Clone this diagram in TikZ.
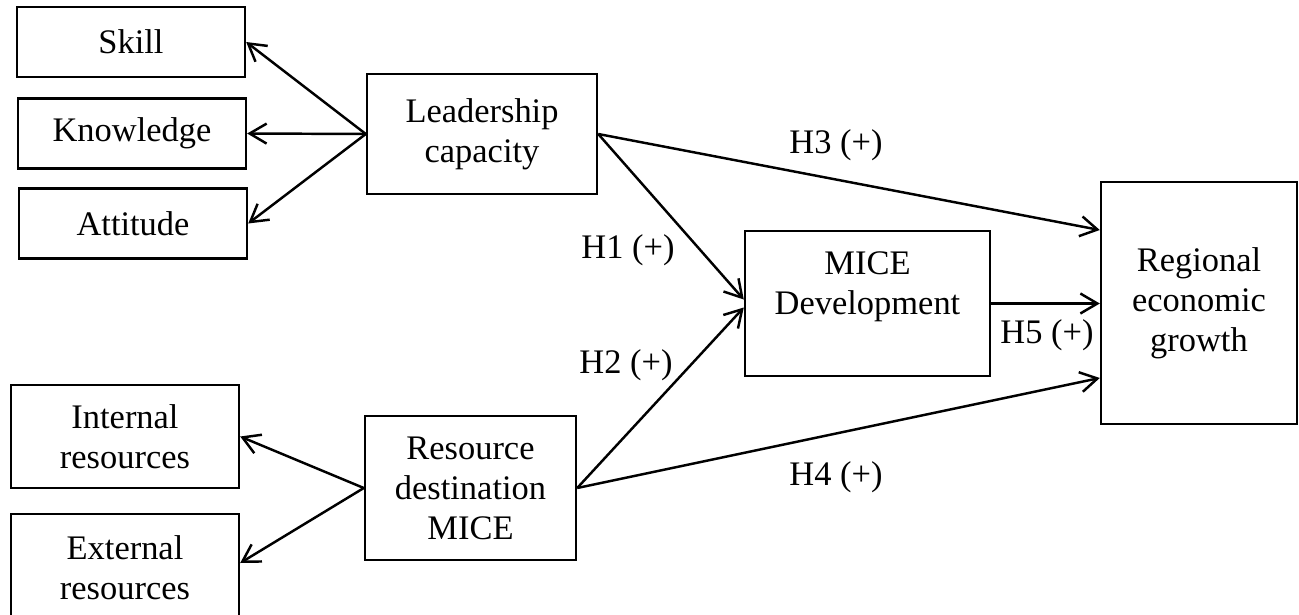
\documentclass[tikz,border=0pt]{standalone}
\usepackage{fontspec}
\setmainfont{Liberation Serif}
\usetikzlibrary{arrows.meta, positioning}

\begin{document}
\begin{tikzpicture}[
    x=0.02cm, y=-0.02cm,
    box/.style={
      draw,
      line width=1.4pt,
      align=center,
      inner sep=2pt,
      font=\fontsize{19.6}{22.8}\selectfont
    },
    lbl/.style={font=\fontsize{19.6}{22.8}\selectfont, inner sep=1pt},
    arrow/.style={-{Straight Barb[length=3.4mm, width=4mm, line width=1.4pt]}, line width=1.4pt}
  ]
    \useasboundingbox (0,0) rectangle (1299,615);

    \node[box, minimum width=4.56cm, minimum height=1.4cm] (skill) at (131,42) {Skill};
    \node[box, minimum width=4.56cm, minimum height=1.4cm] (knowledge) at (132,133.5) {Knowledge};
    \node[box, minimum width=4.56cm, minimum height=1.4cm] (attitude) at (133,223.5) {Attitude};
    \node[box, minimum width=4.6cm, minimum height=2.4cm] (leader) at (482,134) {Leadership\\capacity};

    \node[box, minimum width=4.9cm, minimum height=2.9cm] (mice) at (867.5,303.5) {MICE\\Development\\\mbox{}};
    \node[box, minimum width=3.92cm, minimum height=4.84cm] (growth) at (1199,303) {Regional\\economic\\growth};

    \node[box, minimum width=4.56cm, minimum height=2.06cm] (internal) at (125,436.5) {Internal\\resources};
    \node[box, minimum width=4.56cm, minimum height=2.16cm] (external) at (125,568) {External\\resources};
    \node[box, minimum width=4.22cm, minimum height=2.88cm] (resource) at (470.5,488) {Resource\\destination\\MICE};

    % hypotheses
    \node[lbl] (h3) at (836,145) {H3 (+)};
    \node[lbl] (h1) at (628,250) {H1 (+)};
    \node[lbl] (h2) at (626,365) {H2 (+)};
    \node[lbl] (h5) at (1047,335) {H5 (+)};
    \node[lbl] (h4) at (836,477) {H4 (+)};

    \draw[arrow] (leader.west) -- (skill.east);
    \draw[arrow] (leader.west) -- (knowledge.east);
    \draw[arrow] (leader.west) -- (attitude.east);
    \draw[arrow] (resource.west) -- (internal.east);
    \draw[arrow] (resource.west) -- ([yshift=0.1cm]external.east);

    \draw[arrow] (leader.east) -- ([yshift=1.46cm]growth.west);
    \draw[arrow] (leader.east) -- ([yshift=0.08cm]mice.west);
    \draw[arrow] (resource.east) -- ([yshift=-0.08cm]mice.west);
    \draw[arrow] (mice.east) -- (mice.east -| growth.west);
    \draw[arrow] (resource.east) -- ([yshift=-1.5cm]growth.west);
  \end{tikzpicture}
\end{document}
